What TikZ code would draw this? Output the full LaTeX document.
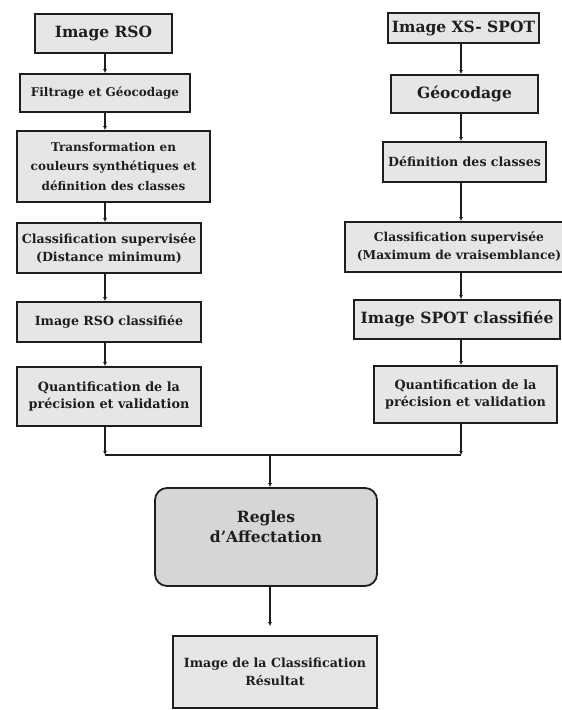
\documentclass[tikz,border=0pt]{standalone}
\usepackage{fontspec}
\setmainfont{DejaVu Serif}
\usetikzlibrary{arrows.meta}
\definecolor{boxgray}{HTML}{E6E6E6}
\definecolor{rulegray}{HTML}{D6D6D6}
\definecolor{ink}{HTML}{1E1E1E}
\tikzset{
  box/.style={draw=ink, line width=1.8pt, fill=boxgray, rectangle, inner sep=0pt,
    align=center, text=ink, font=\bfseries\fontsize{12.6}{18}\selectfont},
  mid/.style={font=\bfseries\fontsize{12}{19.5}\selectfont},
  quant/.style={font=\bfseries\fontsize{12.8}{16.5}\selectfont},
  big/.style={font=\bfseries\fontsize{15.5}{20}\selectfont},
  rulebox/.style={box, fill=rulegray, rounded corners=12pt},
  link/.style={draw=ink, line width=1.5pt, -{Latex[length=4pt,width=4pt]}},
  plain/.style={draw=ink, line width=1.5pt}
}
\begin{document}
\begin{tikzpicture}[x=1pt,y=-1pt]
\useasboundingbox (0,0) rectangle (562,710);
% left column
\node[box,big,minimum width=137pt,minimum height=39pt] (rso) at (103.5,33.5) {Image RSO};
\node[box,mid,minimum width=170pt,minimum height=38pt] (filt) at (105,93) {Filtrage et Géocodage};
\node[box,mid,minimum width=193pt,minimum height=71pt] (trans) at (113.5,166.5) {Transformation en\\couleurs synthétiques et\\définition des classes};
\node[box,minimum width=184pt,minimum height=50pt] (clsL) at (109,248) {Classification supervisée\\(Distance minimum)};
\node[box,minimum width=184pt,minimum height=40pt] (rsoc) at (109,322) {Image RSO classifiée};
\node[box,quant,minimum width=184pt,minimum height=59pt] (quantL) at (109,396.5) {Quantification de la\\précision et validation};
% right column
\node[box,big,minimum width=151pt,minimum height=30pt] (xs) at (463.5,28) {Image XS- SPOT};
\node[box,big,minimum width=147pt,minimum height=38pt] (geo) at (464.5,94) {Géocodage};
\node[box,minimum width=163pt,minimum height=40pt] (def) at (464.5,162) {Définition des classes};
\node[box,font=\bfseries\fontsize{12.3}{18}\selectfont,minimum width=228pt,minimum height=50pt,text width=228pt] (clsR) at (459,247) {Classification supervisée\\(Maximum de vraisemblance)};
\node[box,big,minimum width=206pt,minimum height=39pt] (spotc) at (457,319.5) {Image SPOT classifiée};
\node[box,quant,minimum width=183pt,minimum height=57pt] (quantR) at (465.5,394.5) {Quantification de la\\précision et validation};
% bottom
\node[rulebox,big,minimum width=222pt,minimum height=98pt] (regles) at (266,537) {Regles\\d'Affectation\\\mbox{}};
\node[box,minimum width=204pt,minimum height=72pt] (final) at (275,672) {Image de la Classification\\Résultat};
\coordinate (jl) at (105,455);
\coordinate (jr) at (461,455);
\coordinate (jc) at (270,455);
% left links
\draw[link] (rso.south -| jl) -- (filt.north -| jl);
\draw[link] (filt.south -| jl) -- (trans.north -| jl);
\draw[link] (trans.south -| jl) -- (clsL.north -| jl);
\draw[link] (clsL.south -| jl) -- (rsoc.north -| jl);
\draw[link] (rsoc.south -| jl) -- (quantL.north -| jl);
\draw[link] (quantL.south -| jl) -- (jl);
% right links
\draw[link] (xs.south -| jr) -- (geo.north -| jr);
\draw[link] (geo.south -| jr) -- (def.north -| jr);
\draw[link] (def.south -| jr) -- (clsR.north -| jr);
\draw[link] (clsR.south -| jr) -- (spotc.north -| jr);
\draw[link] (spotc.south -| jr) -- (quantR.north -| jr);
\draw[link] (quantR.south -| jr) -- (jr);
% merge
\draw[plain] (jl) -- (jr);
\draw[link] (jc) -- (regles.north -| jc);
\draw[link] (regles.south -| jc) -- ([yshift=9pt]final.north -| jc);
\end{tikzpicture}
\end{document}
